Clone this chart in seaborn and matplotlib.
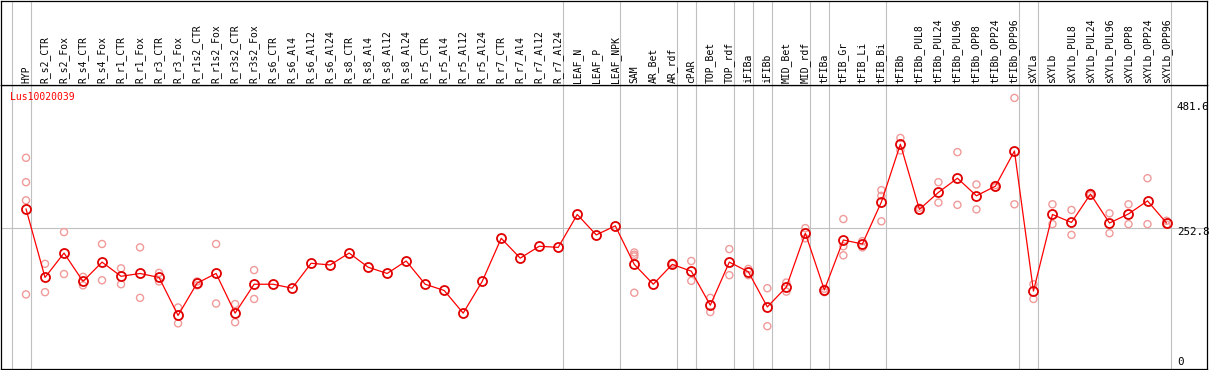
import numpy as np
import pandas as pd
import matplotlib
matplotlib.use('Agg')
import matplotlib.pyplot as plt
import seaborn as sns

gene = 'Lus10020039'

samples = ['HYP', 'R_s2_CTR', 'R_s2_Fox', 'R_s4_CTR', 'R_s4_Fox', 'R_r1_CTR', 'R_r1_Fox',
           'R_r3_CTR', 'R_r3_Fox', 'R_r1s2_CTR', 'R_r1s2_Fox', 'R_r3s2_CTR', 'R_r3s2_Fox',
           'R_s6_CTR', 'R_s6_Al4', 'R_s6_Al12', 'R_s6_Al24', 'R_s8_CTR', 'R_s8_Al4',
           'R_s8_Al12', 'R_s8_Al24', 'R_r5_CTR', 'R_r5_Al4', 'R_r5_Al12', 'R_r5_Al24',
           'R_r7_CTR', 'R_r7_Al4', 'R_r7_Al12', 'R_r7_Al24', 'LEAF_N', 'LEAF_P', 'LEAF_NPK',
           'SAM', 'AR_Bet', 'AR_rdf', 'cPAR', 'TOP_Bet', 'TOP_rdf', 'iFIBa', 'iFIBb',
           'MID_Bet', 'MID_rdf', 'tFIBa', 'tFIB_Gr', 'tFIB_Li', 'tFIB_Bi', 'tFIBb',
           'tFIBb_PUL8', 'tFIBb_PUL24', 'tFIBb_PUL96', 'tFIBb_OPP8', 'tFIBb_OPP24',
           'tFIBb_OPP96', 'sXYLa', 'sXYLb', 'sXYLb_PUL8', 'sXYLb_PUL24', 'sXYLb_PUL96',
           'sXYLb_OPP8', 'sXYLb_OPP24', 'sXYLb_OPP96']

mean_expr = [286, 165, 208, 158, 192, 167, 172, 165, 98, 155, 172, 102, 153,
             153, 146, 190, 187, 208, 183, 172, 194, 153, 142, 102, 158,
             234, 199, 220, 218, 276, 240, 256,
             188, 153, 188, 176, 116, 192, 175, 113, 148, 243, 143, 231, 224, 298,
             400, 285, 315, 340, 309, 326, 388,
             141, 276, 262, 312, 261, 277, 300, 261]

replicates = [[376, 333, 301, 135], [189, 139], [245, 171], [166, 151], [224, 160],
              [181, 153], [218, 129], [173, 158], [112, 84], [158, 151], [224, 119],
              [118, 86], [178, 127],
              [], [], [], [], [], [], [], [], [], [], [], [], [], [], [], [], [], [], [],
              [209, 205, 202, 138], [], [191, 189], [194, 159], [129, 104], [215, 169],
              [180, 169], [146, 79], [156, 140], [252, 234], [145, 139],
              [268, 220, 204], [229, 218], [319, 309, 264],
              [411, 389], [288, 283], [333, 297], [386, 293], [329, 285], [328, 324],
              [481.6, 294],
              [153, 127], [294, 259], [284, 240], [314, 310], [278, 243], [294, 259],
              [340, 259], [265, 258]]

group_ends = [-1, 0, 28, 31, 34, 35, 37, 38, 39, 41, 42, 45, 52, 53, 60]
y_labels = [481.6, 252.8, 0]

# long table for the replicate points
rows = []
for i, vals in enumerate(replicates):
    for v in vals:
        rows.append({'pos': i, 'expr': v})
rep_df = pd.DataFrame(rows)
mean_df = pd.DataFrame({'pos': np.arange(len(samples)), 'expr': mean_expr})

sns.set_style('white')
mono = 'DejaVu Sans Mono'
W, H = 1209, 370
fig = plt.figure(figsize=(W / 100, H / 100), dpi=100)

ax = fig.add_axes([1 / W, 1 / H, 1206 / W, 284 / H])
head = fig.add_axes([1 / W, 285 / H, 1206 / W, 84.5 / H])

xlim = (-1.315, 62.13)
grid_c = '#c0c0c0'

# data panel
ax.axhline(252.8, color=grid_c, lw=0.8, zorder=0)
for g in group_ends:
    ax.axvline(g + 0.24, color=grid_c, lw=0.8, zorder=0)
    head.axvline(g + 0.24, color=grid_c, lw=0.8, zorder=0)

sns.scatterplot(data=rep_df, x='pos', y='expr', ax=ax, marker='o', s=26,
                facecolors='none', edgecolor='#f09a9a', linewidth=1.0, zorder=2)
sns.lineplot(data=mean_df, x='pos', y='expr', ax=ax, color='red', lw=0.9,
             marker='o', markersize=6.5, markerfacecolor='none',
             markeredgecolor='#e00000', markeredgewidth=1.3, zorder=3)

ax.set_xlim(*xlim)
ax.set_ylim(3.5, 504.4)
ax.set_xticks([])
ax.set_yticks([])
ax.set_xlabel('')
ax.set_ylabel('')

ax.text(0.0075, 0.959, gene, transform=ax.transAxes, color='red',
        family=mono, fontsize=7, ha='left', va='center')
offsets = {481.6: -6.5, 252.8: -2.9, 0: 6.5}
for v in y_labels:
    ax.annotate(f'{v:g}', xy=(60.55, v), xytext=(0, offsets[v]), textcoords='offset points',
                family=mono, fontsize=7.8, ha='left', va='center', color='black',
                annotation_clip=False)

# header with rotated sample names
head.set_xlim(*xlim)
head.set_ylim(0, 1)
head.set_xticks([])
head.set_yticks([])
for i, name in enumerate(samples):
    head.text(i, 0.025, name, rotation=90, ha='center', va='bottom',
              family=mono, fontsize=7, color='black')

for a in (ax, head):
    for sp in a.spines.values():
        sp.set_color('black')
        sp.set_linewidth(0.9)

fig.savefig('out.png', dpi=100)
